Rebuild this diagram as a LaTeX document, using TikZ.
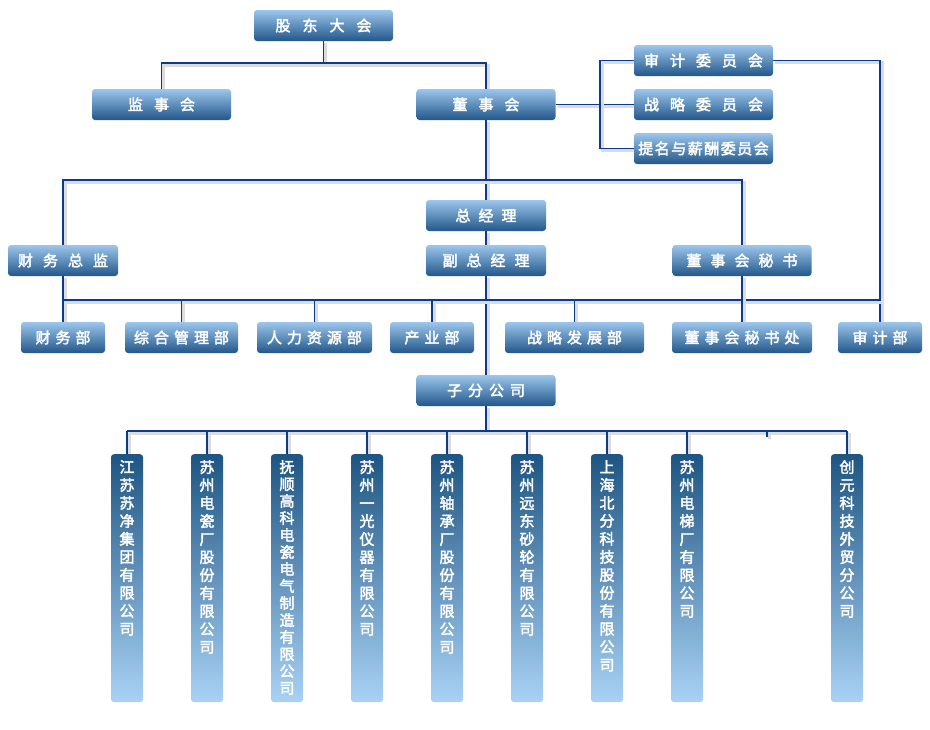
\documentclass[tikz,border=0pt]{standalone}
\usepackage{fontspec}
\setmainfont{Noto Sans CJK SC}
\newfontfamily\outl{Noto Sans CJK SC}[FakeBold=2.5]
\usetikzlibrary{backgrounds}
\definecolor{hTop}{HTML}{9CC6EC}
\definecolor{hBot}{HTML}{22578A}
\definecolor{vTop}{HTML}{1E5582}
\definecolor{vBot}{HTML}{A9D2F5}
\definecolor{lineC}{HTML}{0B3C8C}
\definecolor{shadowC}{HTML}{DCDCDC}
\newlength\gaplen
\newcommand\g{\hspace{\gaplen}}
\tikzset{
  ink/.style={text=white,
    execute at begin node={\special{pdf:bcolor [1 1 1] [0 0 0]}},
    execute at end node={\special{pdf:ecolor}}},
  hbox/.style={rounded corners=3pt, top color=hTop, bottom color=hBot,
    minimum height=31pt, minimum width=139pt, inner sep=0pt, ink,
    font=\outl\fontsize{15}{15}\selectfont},
  gap/.style={execute at begin node={\setlength{\gaplen}{#1pt}}},
  vbox/.style={rounded corners=3pt, top color=vTop, bottom color=vBot,
    minimum width=32pt, minimum height=248pt, inner sep=0pt, anchor=north,
    ink, font=\outl\fontsize{15}{18}\selectfont},
  tight/.style={font=\outl\fontsize{15}{17}\selectfont},
  conn/.style={draw=lineC, line width=1.3pt,
    preaction={draw=shadowC, line width=3pt, transform canvas={shift={(2pt,-2pt)}}}},
}
\newcommand\vt[1]{\parbox[c][236pt][t]{22pt}{\centering #1}}
\begin{document}
\begin{tikzpicture}[x=1pt,y=-1pt]
\useasboundingbox (0,0) rectangle (930,729);
% top levels
\node[hbox,gap=12] (gd) at (323.5,25.5) {股\g 东\g 大\g 会};
\node[hbox,gap=11] (js) at (161.5,104.5) {监\g 事\g 会};
\node[hbox,gap=11] (ds) at (486,104.5) {董\g 事\g 会};
\node[hbox,gap=11] (sj) at (703.5,60.5) {审\g 计\g 委\g 员\g 会};
\node[hbox,gap=11] (zl) at (703.5,104.5) {战\g 略\g 委\g 员\g 会};
\node[hbox,gap=1.5] (tm) at (703.5,148.5) {提\g 名\g 与\g 薪\g 酬\g 委\g 员\g 会};
\node[hbox,gap=8,minimum width=120pt] (zjl) at (486,215.5) {总\g 经\g 理};
\node[hbox,gap=10,minimum width=110pt] (cwzj) at (63,260.5) {财\g 务\g 总\g 监};
\node[hbox,gap=9,minimum width=120pt] (fzjl) at (486,260.5) {副\g 总\g 经\g 理};
\node[hbox,gap=9] (dms) at (742,260.5) {董\g 事\g 会\g 秘\g 书};
% departments
\node[hbox,gap=5,minimum width=84pt] (cwb) at (63,337.5) {财\g 务\g 部};
\node[hbox,gap=5,minimum width=113pt] (zh) at (181.5,337.5) {综\g 合\g 管\g 理\g 部};
\node[hbox,gap=5,minimum width=115pt] (rl) at (314.5,337.5) {人\g 力\g 资\g 源\g 部};
\node[hbox,gap=5,minimum width=84pt] (cy) at (432,337.5) {产\g 业\g 部};
\node[hbox,gap=5] (zlfz) at (574.5,337.5) {战\g 略\g 发\g 展\g 部};
\node[hbox,gap=5,minimum width=140pt] (dmsc) at (742,337.5) {董\g 事\g 会\g 秘\g 书\g 处};
\node[hbox,gap=5,minimum width=84pt] (sjb) at (880,337.5) {审\g 计\g 部};
\node[hbox,gap=6] (zfgs) at (486,390.5) {子\g 分\g 公\g 司};
% subsidiaries
\node[vbox] (c1) at (127,454) {\vt{江\\苏\\苏\\净\\集\\团\\有\\限\\公\\司}};
\node[vbox] (c2) at (207,454) {\vt{苏\\州\\电\\瓷\\厂\\股\\份\\有\\限\\公\\司}};
\node[vbox,tight] (c3) at (287,454) {\vt{抚\\顺\\高\\科\\电\\瓷\\电\\气\\制\\造\\有\\限\\公\\司}};
\node[vbox] (c4) at (367,454) {\vt{苏\\州\\一\\光\\仪\\器\\有\\限\\公\\司}};
\node[vbox] (c5) at (447,454) {\vt{苏\\州\\轴\\承\\厂\\股\\份\\有\\限\\公\\司}};
\node[vbox] (c6) at (527,454) {\vt{苏\\州\\远\\东\\砂\\轮\\有\\限\\公\\司}};
\node[vbox] (c7) at (607,454) {\vt{上\\海\\北\\分\\科\\技\\股\\份\\有\\限\\公\\司}};
\node[vbox] (c8) at (687,454) {\vt{苏\\州\\电\\梯\\厂\\有\\限\\公\\司}};
\node[vbox] (c9) at (847,454) {\vt{创\\元\\科\\技\\外\\贸\\分\\公\\司}};
\coordinate (y1) at (0,63);
\coordinate (y2) at (0,180);
\coordinate (y3) at (0,300);
\coordinate (y4) at (0,431);
\coordinate (cx) at (600,0);
\coordinate (stub) at (767,437);
\begin{pgfonlayer}{background}
\fill[white] (0,0) rectangle (930,729);
% shareholders
\draw[conn] (gd.south) -- (gd.south |- y1);
\draw[conn] (js.north) -- (js.north |- y1) -- (ds.north |- y1) -- (ds.north);
% board to committees
\draw[conn] (ds.east) -- (zl.west);
\draw[conn] (sj.west) -- (sj.west -| cx) -- (tm.west -| cx) -- (tm.west);
\draw[conn] (sj.east) -| (sjb.north);
% main spine
\draw[conn] (ds.south) -- (zjl.north);
\draw[conn] (zjl.south) -- (fzjl.north);
\draw[conn] (fzjl.south) -- (zfgs.north);
% y2 bus
\draw[conn] (cwzj.north) |- (dms.north |- y2) -- (dms.north);
% y3 bus
\draw[conn] (cwzj.south) -- (cwb.north);
\draw[conn] (cwzj.south |- y3) -- (sjb.north |- y3);
\draw[conn] (zh.north |- y3) -- (zh.north);
\draw[conn] (rl.north |- y3) -- (rl.north);
\draw[conn] (cy.north |- y3) -- (cy.north);
\draw[conn] (zlfz.north |- y3) -- (zlfz.north);
\draw[conn] (dms.south) -- (dmsc.north);
% subsidiaries bus
\draw[conn] (zfgs.south) -- (zfgs.south |- y4);
\draw[conn] (c1.north |- y4) -- (c9.north |- y4);
\foreach \c in {c1,c2,c3,c4,c5,c6,c7,c8,c9}
  \draw[conn] (\c.north |- y4) -- (\c.north);
\draw[conn] (stub |- y4) -- (stub);
\end{pgfonlayer}
\end{tikzpicture}
\end{document}
